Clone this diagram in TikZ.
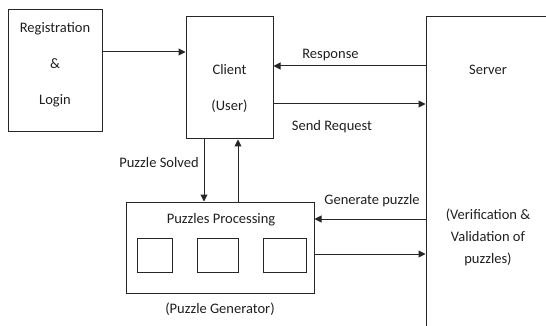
\documentclass[tikz,border=0pt]{standalone}
\usepackage{fontspec}
\setmainfont{Carlito}
\usetikzlibrary{arrows.meta}
\begin{document}
\begin{tikzpicture}[x=1pt,y=-1pt,
  box/.style={draw=black!85,line width=1pt,inner sep=0pt,rectangle},
  arr/.style={draw=black!85,line width=1pt,-{Triangle[length=7pt,width=7pt]}},
  lbl/.style={font=\fontsize{14.5}{17}\selectfont,inner sep=0pt,text=black!88,anchor=base}]
\useasboundingbox (0,0) rectangle (546,326);
\clip (0,0) rectangle (546,326);
% boxes
\node[box,minimum width=94pt,minimum height=122pt] (reg) at (55,71) {};
\node[box,minimum width=87pt,minimum height=122pt] (client) at (229.5,78) {};
\node[box,minimum width=144pt,minimum height=333pt] (server) at (498,183.5) {};
\node[box,minimum width=188pt,minimum height=91pt] (proc) at (220,247.5) {};
\node[box,minimum width=35pt,minimum height=34pt] (b1) at (154.5,255) {};
\node[box,minimum width=41pt,minimum height=34pt] (b2) at (217.5,255) {};
\node[box,minimum width=43pt,minimum height=34pt] (b3) at (284.5,255) {};
% texts
\node[lbl] (t1) at (55,32.5) {Registration};
\node[lbl] (t2) at (55,68.5) {\&};
\node[lbl] (t3) at (55,104.5) {Login};
\node[lbl] (t4) at (229.5,74.5) {Client};
\node[lbl] (t5) at (229.5,110.5) {(User)};
\node[lbl] (t6) at (488,74.5) {Server};
\node[lbl] (t7) at (488,219.5) {(Verification \&};
\node[lbl] (t8) at (488,241.5) {Validation of};
\node[lbl] (t9) at (488,263.5) {puzzles)};
\node[lbl] (t10) at (221,223.5) {Puzzles Processing};
\node[lbl] (t11) at (220,313.5) {(Puzzle Generator)};
% connectors
\draw[arr] (reg.east |- 0,52) -- (client.west |- 0,52);
\draw[arr] (server.west |- 0,66) -- (client.east |- 0,66);
\node[lbl] (lr) at (330.5,58.5) {Response};
\draw[arr] (client.east |- 0,104) -- (server.west |- 0,104);
\node[lbl] (ls) at (332,131) {Send Request};
\draw[arr] (client.south -| 204,0) -- (proc.north -| 204,0);
\node[lbl] (lps) at (159,167.5) {Puzzle Solved};
\draw[arr] (proc.north -| 238,0) -- (client.south -| 238,0);
\draw[arr] (server.west |- 0,219) -- (proc.east |- 0,219);
\node[lbl] (lg) at (372,204.5) {Generate puzzle};
\draw[arr] (proc.east |- 0,254) -- (server.west |- 0,254);
\end{tikzpicture}
\end{document}
